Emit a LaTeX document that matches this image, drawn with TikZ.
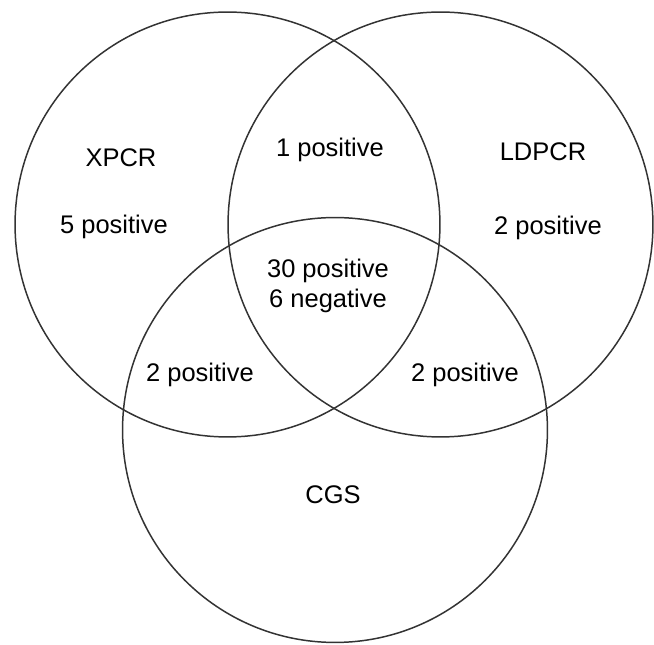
\documentclass[tikz,border=0pt]{standalone}
\usepackage{fontspec}
\setmainfont{Liberation Sans}
\usepackage{tikz}

\tikzset{
    venn/.style={circle, draw=black!80, line width=0.85pt, minimum size=8.5cm, inner sep=0pt},
    lbl/.style={font=\fontsize{14.5}{17}\selectfont, align=center, inner sep=0pt}
}

\begin{document}
\begin{tikzpicture}[x=0.02cm, y=-0.02cm]
        \useasboundingbox (0,0) rectangle (654,645);

        \node[venn] (xpcr) at (227.5,224.5) {};
        \node[venn] (ldpcr) at (440.5,224.5) {};
        \node[venn] (cgs) at (335,430) {};

        \node[lbl] (xpcrname) at (121,158) {XPCR};
        \node[lbl] (xpcronly) at (114,227) {5 positive};
        \node[lbl] (ldpcrname) at (543,152) {LDPCR};
        \node[lbl] (ldpcronly) at (548,228) {2 positive};
        \node[lbl] (cgsname) at (333,495) {CGS};
        \node[lbl] (xl) at (330,150) {1 positive};
        \node[lbl] (xc) at (200,375) {2 positive};
        \node[lbl] (lc) at (465,375) {2 positive};
        \node[lbl] (all) at (328,286) {30 positive\\6 negative};
\end{tikzpicture}
\end{document}
